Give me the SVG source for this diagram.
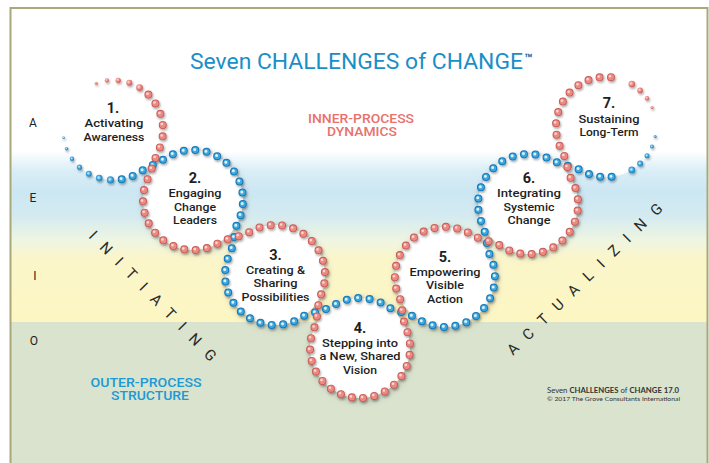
<svg xmlns="http://www.w3.org/2000/svg" width="709" height="463" viewBox="0 0 709 463">
<style>
.lb{font-family:Roboto,"Liberation Sans",sans-serif;font-weight:500;font-size:11.5px;fill:#1e1e1e;text-anchor:middle}
.num{font-family:Roboto,"Liberation Sans",sans-serif;font-weight:700;font-size:14.5px;fill:#1e1e1e;text-anchor:middle}
.side{font-family:Roboto,"Liberation Sans",sans-serif;font-weight:400;font-size:12px;fill:#222;text-anchor:middle}
.diag{font-family:Roboto,"Liberation Sans",sans-serif;font-weight:400;font-size:15px;fill:#2a2a2a}
.hd{font-family:Roboto,"Liberation Sans",sans-serif;font-weight:500;font-size:12.5px;text-anchor:middle}
.d{fill:none;stroke-linecap:round}
.r{stroke-dasharray:0 11.388}
.b{stroke-dasharray:0 11.447}
.rr{stroke:#c65a55;stroke-width:8}
.rb{stroke:#ec8983;stroke-width:6.2}
.rh{stroke:#fcd8d2;stroke-width:2.6}
.br{stroke:#1678b6;stroke-width:8}
.bb{stroke:#3ea8df;stroke-width:6}
.bh{stroke:#dcf1fb;stroke-width:3}
.tr{fill:url(#gr)}
.tb{fill:url(#gb)}
.sh{fill:#808080;opacity:.35;filter:url(#halo)}
</style>
<defs>
<linearGradient id="bg" gradientUnits="userSpaceOnUse" x1="0" y1="140" x2="0" y2="322">
<stop offset="0" stop-color="#ffffff"/>
<stop offset="0.06" stop-color="#ffffff"/>
<stop offset="0.17" stop-color="#d9eef7"/>
<stop offset="0.28" stop-color="#cce7f3"/>
<stop offset="0.41" stop-color="#d3eaf1"/>
<stop offset="0.55" stop-color="#eef5e2"/>
<stop offset="0.65" stop-color="#fbf6ca"/>
<stop offset="1" stop-color="#fdf6c3"/>
</linearGradient>
<radialGradient id="gr" cx="0.38" cy="0.38" r="0.65">
<stop offset="0" stop-color="#fde0dc"/>
<stop offset="0.5" stop-color="#ec8983"/>
<stop offset="1" stop-color="#c65a55"/>
</radialGradient>
<radialGradient id="gb" cx="0.42" cy="0.42" r="0.65">
<stop offset="0" stop-color="#e3f5fc"/>
<stop offset="0.45" stop-color="#41a9df"/>
<stop offset="1" stop-color="#1678b6"/>
</radialGradient>
<filter id="halo" x="-30%" y="-30%" width="160%" height="160%"><feGaussianBlur stdDeviation="3"/></filter>
<filter id="ds" x="-5%" y="-5%" width="110%" height="110%"><feDropShadow dx="1" dy="1.6" stdDeviation="1.2" flood-color="#000" flood-opacity="0.35"/></filter>
<path id="rs" d="M148.4,94.6 A50,50 0 0 1 157.1,153.5 L148.9,176.5 A50,50 0 0 0 221.7,241 L246.3,234 A50,50 0 0 1 319.1,298.5 L315.9,324.5 A50,50 0 1 0 404.6,325.3 L400.4,299.7 A50,50 0 0 1 474.4,236.5 L498.6,244.5 A50,50 0 0 0 570.4,177.5 L563.6,153.5 A50,50 0 0 1 621.5,79.4"/>
<path id="bs" d="M121.7,179.2 A50,50 0 0 0 142.4,170.5 L163.6,159.5 A50,50 0 0 1 236.7,224.2 L231.3,250.8 A50,50 0 0 0 304.4,315.5 L330.6,307.5 A50,50 0 0 1 390.1,308.1 L414.9,316.9 A50,50 0 0 0 489.1,253.5 L483.9,227.5 A50,50 0 0 1 554.5,161.6 L579.5,169.4 A50,50 0 0 0 621.5,174.6"/>
</defs>

<g id="background">
<rect x="0" y="0" width="709" height="463" fill="#ffffff"/>
<rect x="10" y="140" width="698" height="182" fill="url(#bg)"/>
<rect x="10" y="322" width="698" height="141" fill="#d9e3cd"/>
<rect x="10.5" y="8" width="697" height="470" fill="none" stroke="#a9a87b" stroke-width="2"/>
</g>

<g id="titles">
<text x="190" y="69" textLength="333" lengthAdjust="spacingAndGlyphs" style="font-family:Roboto,'Liberation Sans',sans-serif;font-size:22.5px;fill:#1a8fc6">Seven CHALLENGES of CHANGE</text>
<text x="524" y="63" style="font-family:Roboto,'Liberation Sans',sans-serif;font-size:13px;font-weight:700;fill:#1d5f99">™</text>
<text class="hd" x="361" y="122.5" textLength="106" lengthAdjust="spacingAndGlyphs" fill="#e8716c">INNER-PROCESS</text>
<text class="hd" x="362" y="136" textLength="70" lengthAdjust="spacingAndGlyphs" fill="#e8716c">DYNAMICS</text>
<text class="hd" x="146" y="386.5" textLength="111" lengthAdjust="spacingAndGlyphs" fill="#1b9ad7">OUTER-PROCESS</text>
<text class="hd" x="150" y="400" textLength="78" lengthAdjust="spacingAndGlyphs" fill="#1b9ad7">STRUCTURE</text>
<text class="side" x="33" y="127">A</text>
<text class="side" x="33" y="202">E</text>
<text class="side" x="35" y="280">I</text>
<text class="side" x="34" y="345">O</text>
<text class="diag" transform="translate(88,237) rotate(45.7)" textLength="175" lengthAdjust="spacing">INITIATING</text>
<text class="diag" transform="translate(513,356) rotate(-44.2)" textLength="210" lengthAdjust="spacing">ACTUALIZING</text>
<text x="547" y="393" textLength="132" lengthAdjust="spacingAndGlyphs" style="font-family:Lato,'Liberation Sans',sans-serif;font-size:6.6px;fill:#333"><tspan>Seven </tspan><tspan font-weight="700">CHALLENGES</tspan><tspan> of </tspan><tspan font-weight="700">CHANGE 17.0</tspan></text>
<text x="547" y="401" textLength="133" lengthAdjust="spacingAndGlyphs" style="font-family:Lato,'Liberation Sans',sans-serif;font-size:6px;fill:#333">© 2017 The Grove Consultants International</text>
</g>

<g id="n1">
<circle cx="113" cy="130" r="50" fill="#fff"/>
<text class="num" x="113" y="112.5">1.</text>
<text class="lb" x="114" y="127.3" textLength="59" lengthAdjust="spacingAndGlyphs">Activating</text>
<text class="lb" x="114" y="140.7" textLength="61" lengthAdjust="spacingAndGlyphs">Awareness</text>
</g>
<g id="n2">
<circle class="sh" cx="194" cy="202" r="52"/>
<circle cx="193" cy="200" r="50" fill="#fff"/>
<text class="num" x="195" y="182.5">2.</text>
<text class="lb" x="195" y="197" textLength="53" lengthAdjust="spacingAndGlyphs">Engaging</text>
<text class="lb" x="195" y="210.5" textLength="42" lengthAdjust="spacingAndGlyphs">Change</text>
<text class="lb" x="195" y="224" textLength="44" lengthAdjust="spacingAndGlyphs">Leaders</text>
</g>
<g id="n3">
<circle class="sh" cx="276" cy="277" r="52"/>
<circle cx="275" cy="275" r="50" fill="#fff"/>
<text class="num" x="275.5" y="259.5">3.</text>
<text class="lb" x="275.5" y="273.5" textLength="59" lengthAdjust="spacingAndGlyphs">Creating &amp;</text>
<text class="lb" x="275.5" y="287" textLength="44" lengthAdjust="spacingAndGlyphs">Sharing</text>
<text class="lb" x="275.5" y="300.5" textLength="68" lengthAdjust="spacingAndGlyphs">Possibilities</text>
</g>
<g id="n4">
<circle class="sh" cx="361" cy="350" r="52"/>
<circle cx="360" cy="348" r="50" fill="#fff"/>
<text class="num" x="360" y="332.5">4.</text>
<text class="lb" x="360" y="346.5" textLength="76" lengthAdjust="spacingAndGlyphs">Stepping into</text>
<text class="lb" x="360" y="360" textLength="81" lengthAdjust="spacingAndGlyphs">a New, Shared</text>
<text class="lb" x="360" y="373.5" textLength="34" lengthAdjust="spacingAndGlyphs">Vision</text>
</g>
<g id="n5">
<circle class="sh" cx="446" cy="279" r="52"/>
<circle cx="445" cy="277" r="50" fill="#fff"/>
<text class="num" x="445" y="261.5">5.</text>
<text class="lb" x="445" y="275.5" textLength="71" lengthAdjust="spacingAndGlyphs">Empowering</text>
<text class="lb" x="445" y="289" textLength="38" lengthAdjust="spacingAndGlyphs">Visible</text>
<text class="lb" x="445" y="302.5" textLength="36" lengthAdjust="spacingAndGlyphs">Action</text>
</g>
<g id="n6">
<circle class="sh" cx="529" cy="206" r="52"/>
<circle cx="528" cy="204" r="50" fill="#fff"/>
<text class="num" x="529" y="182.5">6.</text>
<text class="lb" x="529" y="197" textLength="64" lengthAdjust="spacingAndGlyphs">Integrating</text>
<text class="lb" x="529" y="210.5" textLength="51" lengthAdjust="spacingAndGlyphs">Systemic</text>
<text class="lb" x="529" y="224" textLength="43" lengthAdjust="spacingAndGlyphs">Change</text>
</g>
<g id="n7">
<circle cx="606" cy="127" r="50" fill="#fff"/>
<text class="num" x="609" y="107.5">7.</text>
<text class="lb" x="609" y="122.5" textLength="61" lengthAdjust="spacingAndGlyphs">Sustaining</text>
<text class="lb" x="609" y="136" textLength="59" lengthAdjust="spacingAndGlyphs">Long-Term</text>
</g>

<g id="connectors" filter="url(#ds)">
<use href="#bs" class="d b br"/>
<use href="#bs" class="d b bb"/>
<use href="#bs" class="d b bh" transform="translate(-0.6,-0.6)"/>
<use href="#rs" class="d r rr"/>
<use href="#rs" class="d r rb"/>
<use href="#rs" class="d r rh" transform="translate(-0.9,-0.9)"/>
<g class="tr">
<circle cx="139.5" cy="87.6" r="3.4"/>
<circle cx="129.3" cy="82.7" r="3.0"/>
<circle cx="118.2" cy="80.3" r="2.6"/>
<circle cx="106.9" cy="80.4" r="2.1"/>
<circle cx="96.2" cy="83.2" r="1.5"/>
<circle cx="631.8" cy="84.1" r="3.3"/>
<circle cx="640.1" cy="90.4" r="2.8"/>
<circle cx="647.0" cy="98.3" r="2.2"/>
<circle cx="652.0" cy="107.5" r="1.6"/>
</g>
<g class="tb">
<circle cx="110.4" cy="179.9" r="3.6"/>
<circle cx="99.2" cy="178.1" r="3.3"/>
<circle cx="88.8" cy="173.7" r="3.0"/>
<circle cx="79.5" cy="167.2" r="2.6"/>
<circle cx="72.0" cy="158.7" r="2.2"/>
<circle cx="66.6" cy="148.7" r="1.8"/>
<circle cx="63.6" cy="137.8" r="1.3"/>
<circle cx="631.8" cy="169.9" r="3.4"/>
<circle cx="640.1" cy="163.6" r="3.0"/>
<circle cx="647.0" cy="155.7" r="2.5"/>
<circle cx="652.0" cy="146.5" r="2.0"/>
<circle cx="655.1" cy="136.5" r="1.5"/>
</g>
</g>
</svg>
